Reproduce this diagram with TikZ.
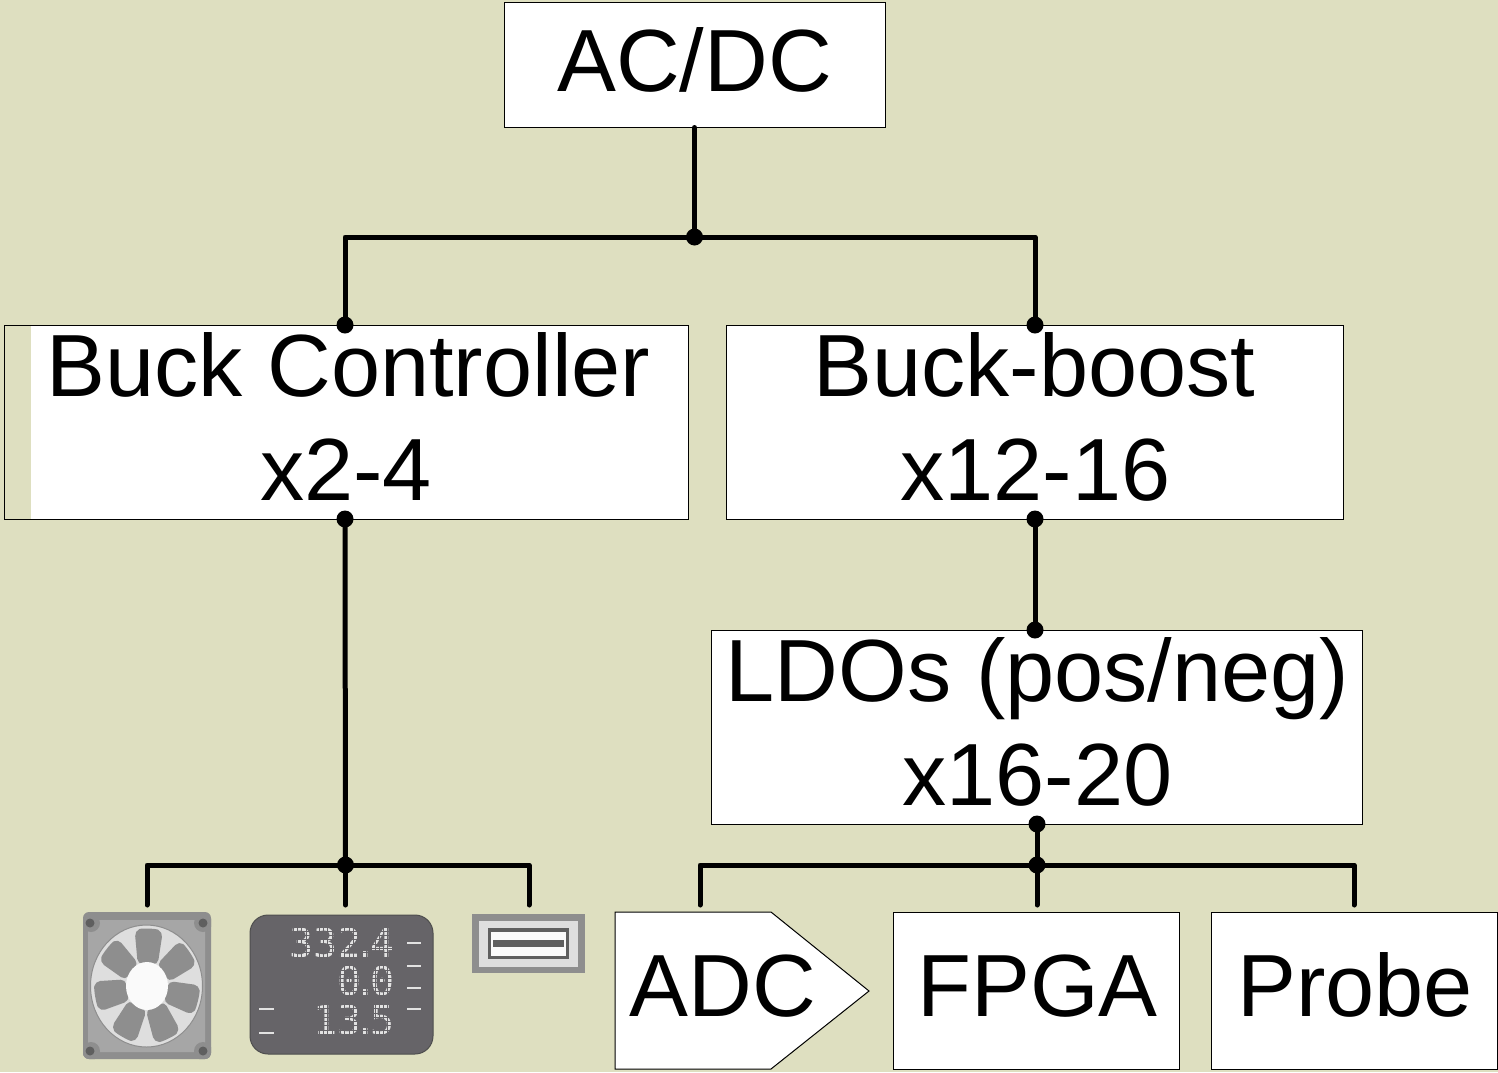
\documentclass[tikz,border=0pt]{standalone}
\usepackage{fontspec}
\setmainfont{Liberation Sans}
\newfontfamily\dotfont{DejaVu Sans Mono}
\definecolor{bgc}{HTML}{DEDFC0}
\definecolor{gmid}{HTML}{8E8E8E}
\definecolor{gplate}{HTML}{A6A6A6}
\definecolor{glight}{HTML}{DEDEDE}
\definecolor{gdark}{HTML}{5F5F5F}
\definecolor{panel}{HTML}{666468}
\definecolor{paneledge}{HTML}{4E4E4E}
\definecolor{tickc}{HTML}{E2E2E2}
\newcommand{\narrowdot}{\kern-3.75pt.\kern-3.75pt}
\tikzset{
  boxnode/.style={draw=black,line width=0.5pt,inner xsep=0pt,inner ysep=0pt,align=center,
    font=\fontsize{44.15}{52}\selectfont},
  wire/.style={line width=2.5pt,line cap=round,line join=round},
  joint/.style={circle,fill=black,inner sep=0pt,minimum size=8.5pt},
  readout/.style={font=\dotfont\fontsize{20}{20}\selectfont,text=tickc,anchor=base east,inner sep=0pt},
  ticka/.style={line width=1.3pt,tickc},
  blade/.style={fill=gmid,rounded corners=2.5pt},
}
\begin{document}
\begin{tikzpicture}[x=0.5pt,y=-0.5pt]
\useasboundingbox (0,0) rectangle (1498,1072);
\fill[bgc] (0,0) rectangle (1498,1072);
% white fills
\fill[white] (504,2) rectangle (885,127);
\fill[white] (31,325) rectangle (688,519);
\fill[white] (726,325) rectangle (1343,519);
\fill[white] (711,630) rectangle (1362,824);
% boxes
\node[boxnode,minimum width=190.5pt,minimum height=62.5pt,text height=44.5pt,text depth=18pt] (acdc) at (694.5,64.5) {AC/DC};
\node[boxnode,minimum width=342pt,minimum height=97pt] (buck) at (346,422)
  {\hspace*{2.5pt}\rule{0pt}{35.5pt}Buck Controller\\ x2-4\rule[-9.5pt]{0pt}{9.5pt}};
\node[boxnode,minimum width=308.5pt,minimum height=97pt] (boost) at (1034.5,422)
  {\rule{0pt}{35.5pt}Buck-boost\\ \hspace*{1pt}x12-16\rule[-9.5pt]{0pt}{9.5pt}};
\node[boxnode,minimum width=325.5pt,minimum height=97pt] (ldo) at (1036.5,727)
  {\rule{0pt}{35.5pt}\hspace*{1pt}LDOs (pos/neg)\\ \hspace*{1pt}x16-20\rule[-9.5pt]{0pt}{9.5pt}};
\draw[fill=white,line width=0.5pt] (615,912) -- (771,912) -- (869,991) -- (771,1069) -- (615,1069) -- cycle;
\node[font=\fontsize{44.15}{52}\selectfont,inner sep=0pt,text height=52pt,text depth=26.5pt] (adc) at (723,990.5) {ADC};
\node[boxnode,fill=white,minimum width=143pt,minimum height=78.5pt,text height=52pt,text depth=26.5pt] (fpga) at (1036,990.5) {\hspace*{1.5pt}FPGA};
\node[boxnode,fill=white,minimum width=143pt,minimum height=78.5pt,text height=52pt,text depth=26.5pt] (probe) at (1354,990.5) {\hspace*{1pt}Probe};
% joints
\node[joint] (j0) at (694.5,237) {};
\node[joint] (jbt) at (345,325) {};
\node[joint] (jbb) at (1035,325) {};
\node[joint] (jbo) at (345,519) {};
\node[joint] (jso) at (1035,519) {};
\node[joint] (jli) at (1035,630) {};
\node[joint] (jlo) at (1037,824) {};
\node[joint] (jl) at (345.5,865) {};
\node[joint] (jr) at (1037,865) {};
\coordinate (d1) at (147,905);
\coordinate (d2) at (345.5,905);
\coordinate (d3) at (529,905);
\coordinate (d4) at (700,905);
\coordinate (d5) at (1037,905);
\coordinate (d6) at (1354,905);
% connectors
\draw[wire] (acdc.south) -- (j0.center);
\draw[wire] (jbt.center) |- (j0.center) -| (jbb.center);
\draw[wire] (jso.center) -- (jli.center);
\draw[wire] (jbo.center) -- (jl.center);
\draw[wire] (jlo.center) -- (jr.center);
\draw[wire] (d1) |- (jl.center) -| (d3);
\draw[wire] (jl.center) -- (d2);
\draw[wire] (d4) |- (jr.center) -| (d6);
\draw[wire] (jr.center) -- (d5);
% fan
\fill[gmid,rounded corners=3pt] (83,912) rectangle (211,1059);
\fill[gplate,rounded corners=3pt] (88,920) rectangle (205,1052);
\begin{scope}
\clip[rounded corners=3pt] (83,912) rectangle (211,1059);
\foreach \cx/\cy in {91/923,203/923,91/1051,203/1051}{
  \fill[gmid] (\cx,\cy) circle[radius=9];
}
\end{scope}
\foreach \cx/\cy in {90/923,203/923,90/1051,203/1051}{
  \fill[gdark] (\cx,\cy) circle[radius=4.5];
}
\fill[glight,draw=gmid,line width=0.5pt] (146.5,986) ellipse[x radius=56,y radius=61];
\foreach \a in {-2,49.43,100.86,152.29,203.71,255.14,306.57}{
  \begin{scope}[shift={(147,986)},yscale=1.09,rotate=\a]
    \path[blade] (-10,-20) -- (-14,-50) .. controls (-7,-53) and (7,-53) .. (14,-50) -- (10,-20) -- cycle;
  \end{scope}
}
\fill[white!98!black] (147,986) ellipse[x radius=21,y radius=24];
% display
\path[fill=panel,draw=paneledge,line width=0.5pt,rounded corners=9pt] (250,915) rectangle (433,1054);
\node[readout] (r1) at (395,957) {332\narrowdot 4};
\node[readout] (r2) at (395,995) {0\narrowdot 0};
\node[readout] (r3) at (395,1034) {13\narrowdot 5};
\foreach \gy in {927,931.3,...,1037}{\draw[panel,line width=0.5pt] (285,\gy) -- (397,\gy);}
\foreach \gx in {289,293.3,...,397}{\draw[panel,line width=0.5pt] (\gx,925) -- (\gx,1037);}
\foreach \ty in {943,966,988,1009}{\draw[ticka] (407,\ty) -- (421,\ty);}
\foreach \ty in {1009,1033}{\draw[ticka] (259,\ty) -- (274,\ty);}
% usb
\fill[gmid] (472,914) rectangle (585,973);
\fill[glight] (479,921) rectangle (578,967);
\fill[gdark] (488,928) rectangle (569,959);
\fill[white!98!black] (491,932) rectangle (566,956);
\fill[gdark] (493,940) rectangle (564,947);
\end{tikzpicture}
\end{document}
